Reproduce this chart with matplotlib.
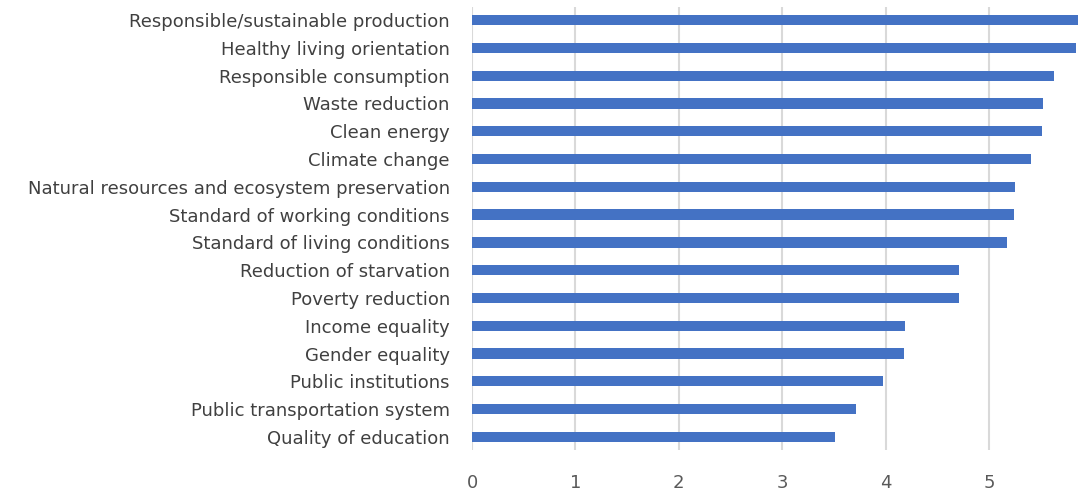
import matplotlib
matplotlib.use("Agg")
import matplotlib.pyplot as plt

# categories from top to bottom
categories = [
    "Responsible/sustainable production",
    "Healthy living orientation",
    "Responsible consumption",
    "Waste reduction",
    "Clean energy",
    "Climate change",
    "Natural resources and ecosystem preservation",
    "Standard of working conditions",
    "Standard of living conditions",
    "Reduction of starvation",
    "Poverty reduction",
    "Income equality",
    "Gender equality",
    "Public institutions",
    "Public transportation system",
    "Quality of education",
]
values = [5.90, 5.84, 5.63, 5.52, 5.51, 5.41, 5.25, 5.24, 5.17,
          4.71, 4.71, 4.19, 4.18, 3.97, 3.71, 3.51]
x_ticks = [0, 1, 2, 3, 4, 5]

fig = plt.figure(figsize=(10.78, 4.91), dpi=100)
ax = fig.add_axes([472 / 1078, 41 / 491, 606 / 1078, 443 / 491])

pos = list(range(len(categories)))[::-1]
ax.barh(pos, values, height=0.37, color="#4472C4", zorder=3)

ax.set_xlim(0, 5.86)
ax.set_ylim(-0.47, 15.47)
ax.set_yticks(pos)
ax.set_yticklabels(categories, fontsize=13, color="#404040")
ax.set_xticks(x_ticks)
ax.set_xticklabels([str(t) for t in x_ticks], fontsize=13, color="#595959")

ax.grid(axis="x", color="#D9D9D9", linewidth=1.5, zorder=0)
for s in ax.spines.values():
    s.set_visible(False)
ax.tick_params(axis="both", length=0)
ax.tick_params(axis="y", pad=16)
ax.tick_params(axis="x", pad=17)

fig.savefig("out.png", dpi=100)
